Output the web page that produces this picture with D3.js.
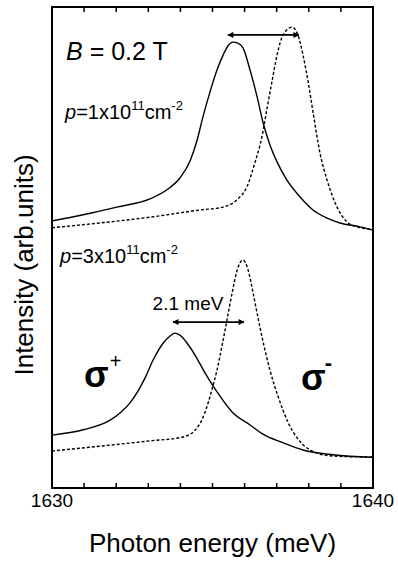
<!DOCTYPE html>
<html>
<head>
<meta charset="utf-8">
<script src="https://cdn.jsdelivr.net/npm/d3@7"></script>
<style>
  body { margin: 0; background: #fff; }
  svg { display: block; font-family: "Liberation Sans", Arial, Helvetica, sans-serif; }
</style>
</head>
<body>
<figure id="chart" style="margin:0"></figure>
<script>
// photon energy (meV) / intensity (arb. units, curves offset vertically)
const upperPlusE = [1630.00, 1630.97, 1632.02, 1633.05, 1633.58, 1633.99, 1634.30, 1634.52, 1634.70, 1634.92, 1635.14, 1635.33, 1635.48, 1635.64, 1635.79, 1635.95, 1636.17, 1636.39, 1636.57, 1636.79, 1637.01, 1637.32, 1637.73, 1638.13, 1638.57, 1638.97, 1639.60, 1640.00];
const upperPlusI = [55.5, 56.8, 58.4, 60.1, 62.0, 64.5, 68.0, 72.3, 77.1, 82.3, 86.9, 90.0, 91.9, 92.7, 92.5, 91.5, 86.9, 81.3, 76.1, 71.3, 67.8, 64.0, 60.5, 57.8, 56.1, 55.1, 54.3, 53.6];

const upperMinusE = [1630.00, 1631.50, 1633.05, 1634.61, 1635.33, 1635.76, 1636.07, 1636.32, 1636.54, 1636.70, 1636.85, 1637.01, 1637.20, 1637.48, 1637.66, 1637.82, 1637.98, 1638.13, 1638.35, 1638.57, 1638.88, 1639.19, 1639.50, 1640.00];
const upperMinusI = [54.1, 55.1, 56.3, 57.8, 58.4, 59.9, 62.6, 67.6, 73.0, 79.0, 84.4, 90.0, 94.2, 95.8, 94.2, 90.0, 84.4, 78.2, 69.6, 64.0, 58.4, 55.3, 54.3, 53.8];

const lowerPlusE = [1630.00, 1630.97, 1631.81, 1632.12, 1632.43, 1632.90, 1633.15, 1633.46, 1633.68, 1633.83, 1634.02, 1634.21, 1634.45, 1634.77, 1635.14, 1635.61, 1636.17, 1636.57, 1637.20, 1637.82, 1638.75, 1640.00];
const lowerPlusI = [11.0, 12.1, 14.1, 15.6, 17.7, 22.9, 26.6, 30.1, 31.6, 32.2, 31.6, 30.1, 27.7, 23.9, 20.0, 15.8, 13.1, 11.2, 9.4, 7.9, 6.9, 6.4];

const lowerMinusE = [1630.00, 1631.50, 1633.05, 1634.08, 1634.52, 1634.77, 1634.98, 1635.14, 1635.30, 1635.45, 1635.61, 1635.76, 1635.95, 1636.11, 1636.26, 1636.42, 1636.60, 1636.79, 1637.04, 1637.35, 1637.73, 1638.10, 1638.66, 1640.00];
const lowerMinusI = [7.7, 8.7, 9.8, 10.6, 12.5, 15.8, 20.4, 24.5, 29.7, 34.9, 40.5, 45.1, 47.4, 45.3, 40.7, 35.3, 29.7, 24.5, 19.1, 13.7, 9.6, 7.7, 6.7, 6.4];

const tickValues = [1630, 1631, 1632, 1633, 1634, 1635, 1636, 1637, 1638, 1639, 1640];
const tickLabels = [1630, 1640];

// splitting arrows: [E start, E end, intensity]
const splitArrows = [[1635.48, 1637.69, 94.2], [1633.77, 1635.98, 34.5]];

const width = 398, height = 561;
const margin = { top: 7, right: 25, bottom: 73, left: 52 };

const svg = d3.select('#chart')
  .append('svg')
  .attr('width', width)
  .attr('height', height);

const x = d3.scaleLinear()
  .domain([1630, 1640])
  .range([margin.left, width - margin.right]);

const y = d3.scaleLinear()
  .domain([0, 100])
  .range([height - margin.bottom, margin.top]);

const line = d3.line()
  .x(d => x(d[0]))
  .y(d => y(d[1]))
  .curve(d3.curveMonotoneX);

const series = [
  { e: upperPlusE, i: upperPlusI, dash: null },
  { e: upperMinusE, i: upperMinusI, dash: '3,2' },
  { e: lowerPlusE, i: lowerPlusI, dash: null },
  { e: lowerMinusE, i: lowerMinusI, dash: '3,2' }
];

series.forEach(s => {
  svg.append('path')
    .datum(d3.zip(s.e, s.i))
    .attr('d', line)
    .attr('fill', 'none')
    .attr('stroke', '#000')
    .attr('stroke-width', 1.4)
    .attr('stroke-dasharray', s.dash);
});

// ticks inside the frame, top and bottom
const ticks = svg.append('g').attr('stroke', '#000').attr('stroke-width', 1.5);
ticks.selectAll('.tb')
  .data(tickValues)
  .enter()
  .append('line')
  .attr('x1', d => x(d)).attr('x2', d => x(d))
  .attr('y1', y(0)).attr('y2', y(0) - 5);
ticks.selectAll('.tt')
  .data(tickValues)
  .enter()
  .append('line')
  .attr('x1', d => x(d)).attr('x2', d => x(d))
  .attr('y1', y(100)).attr('y2', y(100) + 5);

svg.selectAll('.tick-label')
  .data(tickLabels)
  .enter()
  .append('text')
  .attr('class', 'tick-label')
  .attr('x', d => x(d))
  .attr('y', y(0) + 19)
  .attr('text-anchor', 'middle')
  .attr('font-size', 19)
  .text(d => d);

// frame
svg.append('rect')
  .attr('x', x(1630))
  .attr('y', y(100))
  .attr('width', x(1640) - x(1630))
  .attr('height', y(0) - y(100))
  .attr('fill', 'none')
  .attr('stroke', '#000')
  .attr('stroke-width', 2);

// arrows
const defs = svg.append('defs');
defs.append('marker')
  .attr('id', 'head')
  .attr('viewBox', '0 0 10 10')
  .attr('refX', 9).attr('refY', 5)
  .attr('markerWidth', 9).attr('markerHeight', 6)
  .attr('markerUnits', 'userSpaceOnUse')
  .attr('orient', 'auto-start-reverse')
  .append('path')
  .attr('d', 'M0,0 L10,5 L0,10 Z')
  .attr('fill', '#000');

splitArrows.forEach(a => {
  svg.append('line')
    .attr('x1', x(a[0])).attr('x2', x(a[1]))
    .attr('y1', y(a[2])).attr('y2', y(a[2]))
    .attr('stroke', '#000')
    .attr('stroke-width', 1.8)
    .attr('marker-start', 'url(#head)')
    .attr('marker-end', 'url(#head)');
});

// labels
const bLabel = svg.append('text')
  .attr('x', 66).attr('y', 60)
  .attr('font-size', 25);
bLabel.append('tspan').attr('font-style', 'italic').text('B');
bLabel.append('tspan').text(' = 0.2 T');

function density(xp, yp, mant) {
  const t = svg.append('text').attr('x', xp).attr('y', yp).attr('font-size', 20);
  t.append('tspan').attr('font-style', 'italic').text('p');
  t.append('tspan').text('=' + mant + 'x10');
  t.append('tspan').attr('font-size', 13).attr('dy', -9).text('11');
  t.append('tspan').attr('dy', 9).text('cm');
  t.append('tspan').attr('font-size', 13).attr('dy', -9).text('-2');
}
density(65, 119, 1);
density(60, 263, 3);

svg.append('text')
  .attr('x', 188).attr('y', 310)
  .attr('text-anchor', 'middle')
  .attr('font-size', 19)
  .text('2.1 meV');

const sp = svg.append('text').attr('x', 84).attr('y', 387).attr('font-size', 36).attr('font-weight', 'bold');
sp.append('tspan').text('σ');
sp.append('tspan').attr('font-size', 20).attr('font-weight', 'normal').attr('dx', 1).attr('dy', -19).text('+');

const sm = svg.append('text').attr('x', 301).attr('y', 390).attr('font-size', 36).attr('font-weight', 'bold');
sm.append('tspan').text('σ');
sm.append('tspan').attr('font-size', 22).attr('dx', -1).attr('dy', -20).text('-');

// axis titles
svg.append('text')
  .attr('x', (x(1630) + x(1640)) / 2)
  .attr('y', 552)
  .attr('text-anchor', 'middle')
  .attr('font-size', 26)
  .text('Photon energy (meV)');

svg.append('text')
  .attr('transform', 'translate(33,265) rotate(-90)')
  .attr('text-anchor', 'middle')
  .attr('font-size', 26)
  .text('Intensity (arb.units)');
</script>
</body>
</html>
